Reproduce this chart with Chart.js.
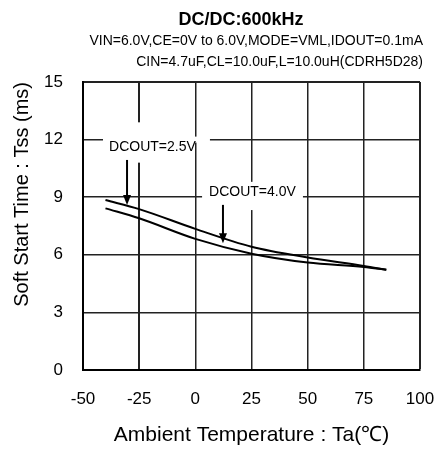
<!DOCTYPE html>
<html>
<head>
<meta charset="utf-8">
<script src="https://cdn.jsdelivr.net/npm/chart.js@4/dist/chart.umd.min.js"></script>
<style>
html,body{margin:0;padding:0;background:#fff;}
#wrap{width:435px;height:451px;position:relative;}
</style>
</head>
<body>
<div id="wrap"><canvas id="c" width="435" height="451"></canvas></div>
<script>
// ---- data ----
const temps   = [-40, -25, 0, 25, 50, 75, 85];
const tss25   = [8.85, 8.38, 7.35, 6.42, 5.86, 5.42, 5.22];
const tss40   = [8.42, 7.90, 6.83, 6.06, 5.60, 5.37, 5.22];
const xTicks  = [-50, -25, 0, 25, 50, 75, 100];
const yTicks  = [0, 3, 6, 9, 12, 15];
const titleText = 'DC/DC:600kHz';
const subtitleLines = ['VIN=6.0V,CE=0V to 6.0V,MODE=VML,IDOUT=0.1mA', 'CIN=4.7uF,CL=10.0uF,L=10.0uH(CDRH5D28)'];
const xTitle = 'Ambient Temperature : Ta(\u2103)';
const yTitle = 'Soft Start Time : Tss (ms)';
const labels = [
  {text: 'DCOUT=2.5V', x: -38.4, y: 11.6, arrowX: -30.4, arrowTop: 10.94, arrowTip: 8.6},
  {text: 'DCOUT=4.0V', x: 6.1, y: 9.27, arrowX: 12.3, arrowTop: 8.6, arrowTip: 6.6}
];
// gaps in grid lines behind labels (data units)
const gaps = [
  {x0: -41.1, x1: 6.5, yc: 12, vertical: false},
  {xc: -25, y0: 10.8, y1: 12.9, vertical: true},
  {x0: 3, x1: 47.9, yc: 9, vertical: false},
  {xc: 25, y0: 8.33, y1: 9.8, vertical: true}
];

const FONT = "'Liberation Sans', Arial, sans-serif";

const annot = {
  id: 'annot',
  beforeDatasetsDraw(chart) {
    const {ctx, scales: {x, y}} = chart;
    ctx.save();
    ctx.fillStyle = '#fff';
    gaps.forEach(g => {
      if (g.vertical) {
        const px = x.getPixelForValue(g.xc);
        const a = y.getPixelForValue(g.y1), b = y.getPixelForValue(g.y0);
        ctx.fillRect(px - 3, a, 6, b - a);
      } else {
        const py = y.getPixelForValue(g.yc);
        const a = x.getPixelForValue(g.x0), b = x.getPixelForValue(g.x1);
        ctx.fillRect(a, py - 3, b - a, 6);
      }
    });
    ctx.fillStyle = '#000';
    ctx.strokeStyle = '#000';
    ctx.font = '14px ' + FONT;
    ctx.textBaseline = 'middle';
    ctx.textAlign = 'left';
    labels.forEach(l => {
      ctx.fillText(l.text, x.getPixelForValue(l.x), y.getPixelForValue(l.y));
      const ax = x.getPixelForValue(l.arrowX);
      const top = y.getPixelForValue(l.arrowTop);
      const tip = y.getPixelForValue(l.arrowTip);
      ctx.lineWidth = 2;
      ctx.beginPath();
      ctx.moveTo(ax, top);
      ctx.lineTo(ax, tip - 8);
      ctx.stroke();
      ctx.beginPath();
      ctx.moveTo(ax - 4, tip - 10);
      ctx.lineTo(ax + 4, tip - 10);
      ctx.lineTo(ax, tip);
      ctx.closePath();
      ctx.fill();
    });
    ctx.restore();
  },
  afterDraw(chart) {
    const {ctx} = chart;
    ctx.save();
    ctx.fillStyle = '#000';
    ctx.textBaseline = 'alphabetic';
    ctx.font = 'bold 18px ' + FONT;
    ctx.textAlign = 'center';
    ctx.fillText(titleText, 241, 25);
    ctx.font = '14px ' + FONT;
    ctx.textAlign = 'right';
    ctx.fillText(subtitleLines[0], 423, 45);
    ctx.fillText(subtitleLines[1], 423, 66);
    ctx.restore();
  }
};

new Chart(document.getElementById('c'), {
  type: 'line',
  data: {
    datasets: [
      {label: 'DCOUT=2.5V', data: temps.map((t, i) => ({x: t, y: tss25[i]})),
       borderColor: '#000', borderWidth: 2, pointRadius: 0, fill: false, cubicInterpolationMode: 'monotone'},
      {label: 'DCOUT=4.0V', data: temps.map((t, i) => ({x: t, y: tss40[i]})),
       borderColor: '#000', borderWidth: 2, pointRadius: 0, fill: false, cubicInterpolationMode: 'monotone'}
    ]
  },
  options: {
    responsive: false,
    animation: false,
    events: [],
    layout: {padding: {left: 0, right: 0, top: 82, bottom: 0}},
    plugins: {legend: {display: false}, tooltip: {enabled: false}, title: {display: false}},
    scales: {
      x: {
        type: 'linear', min: -50, max: 100,
        afterBuildTicks: (s) => { s.ticks = xTicks.map(v => ({value: v})); },
        afterFit: (s) => { s.height = 81; s.paddingRight = 15; s.paddingLeft = 0; },
        ticks: {font: {family: FONT, size: 17}, color: '#000', padding: 19, maxRotation: 0},
        grid: {drawTicks: false, color: '#222',
               lineWidth: (c) => (c.tick && (c.tick.value === -25 || c.tick.value === 100)) ? 2 : 1.5},
        border: {display: true, color: '#000', width: 2},
        title: {display: true, text: xTitle, font: {family: FONT, size: 21}, color: '#000', padding: {top: 0, bottom: 3}}
      },
      y: {
        min: 0, max: 15,
        afterBuildTicks: (s) => { s.ticks = yTicks.map(v => ({value: v})); },
        afterFit: (s) => { s.width = 83; s.paddingTop = 0; s.paddingBottom = 0; },
        ticks: {font: {family: FONT, size: 17}, color: '#000', padding: 20},
        grid: {drawTicks: false, color: '#222',
               lineWidth: (c) => (c.tick && c.tick.value === 15) ? 2 : 1.5},
        border: {display: true, color: '#000', width: 2},
        title: {display: true, text: yTitle, align: 'end', font: {family: FONT, size: 20}, color: '#000', padding: {top: 10, bottom: 0}}
      }
    }
  },
  plugins: [annot]
});
</script>
</body>
</html>
